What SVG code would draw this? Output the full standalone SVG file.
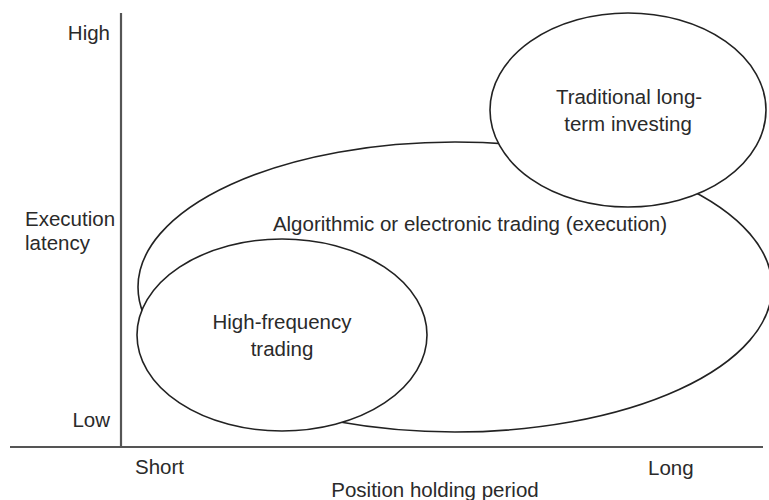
<svg xmlns="http://www.w3.org/2000/svg" width="769" height="500" viewBox="0 0 769 500">
<style>
text{font-family:"Liberation Sans",Arial,sans-serif;font-size:20.5px;fill:#2a2a2a}
.e{fill:#fff;stroke:#222;stroke-width:1.6}
.ax{stroke:#555;stroke-width:2.2}
</style>
<rect width="769" height="500" fill="#fff"/>
<g id="axes">
<line class="ax" x1="121" y1="13" x2="121" y2="448"/>
<line class="ax" x1="10" y1="447" x2="763" y2="447"/>
</g>
<g id="algo">
<ellipse class="e" cx="455" cy="287" rx="317" ry="145"/>
<text x="470" y="231" text-anchor="middle">Algorithmic or electronic trading (execution)</text>
</g>
<g id="hft">
<ellipse class="e" cx="282" cy="335" rx="145" ry="96"/>
<text x="282" y="329" text-anchor="middle">High-frequency</text>
<text x="282" y="356" text-anchor="middle">trading</text>
</g>
<g id="trad">
<ellipse class="e" cx="628" cy="110" rx="138" ry="97"/>
<text x="629" y="104" text-anchor="middle">Traditional long-</text>
<text x="628" y="131" text-anchor="middle">term investing</text>
</g>
<g id="labels">
<text x="110" y="40" text-anchor="end">High</text>
<text x="25" y="226">Execution</text>
<text x="25" y="250">latency</text>
<text x="110" y="427" text-anchor="end">Low</text>
<text x="135" y="474">Short</text>
<text x="648" y="475">Long</text>
<text x="435" y="497" text-anchor="middle">Position holding period</text>
</g>
</svg>
